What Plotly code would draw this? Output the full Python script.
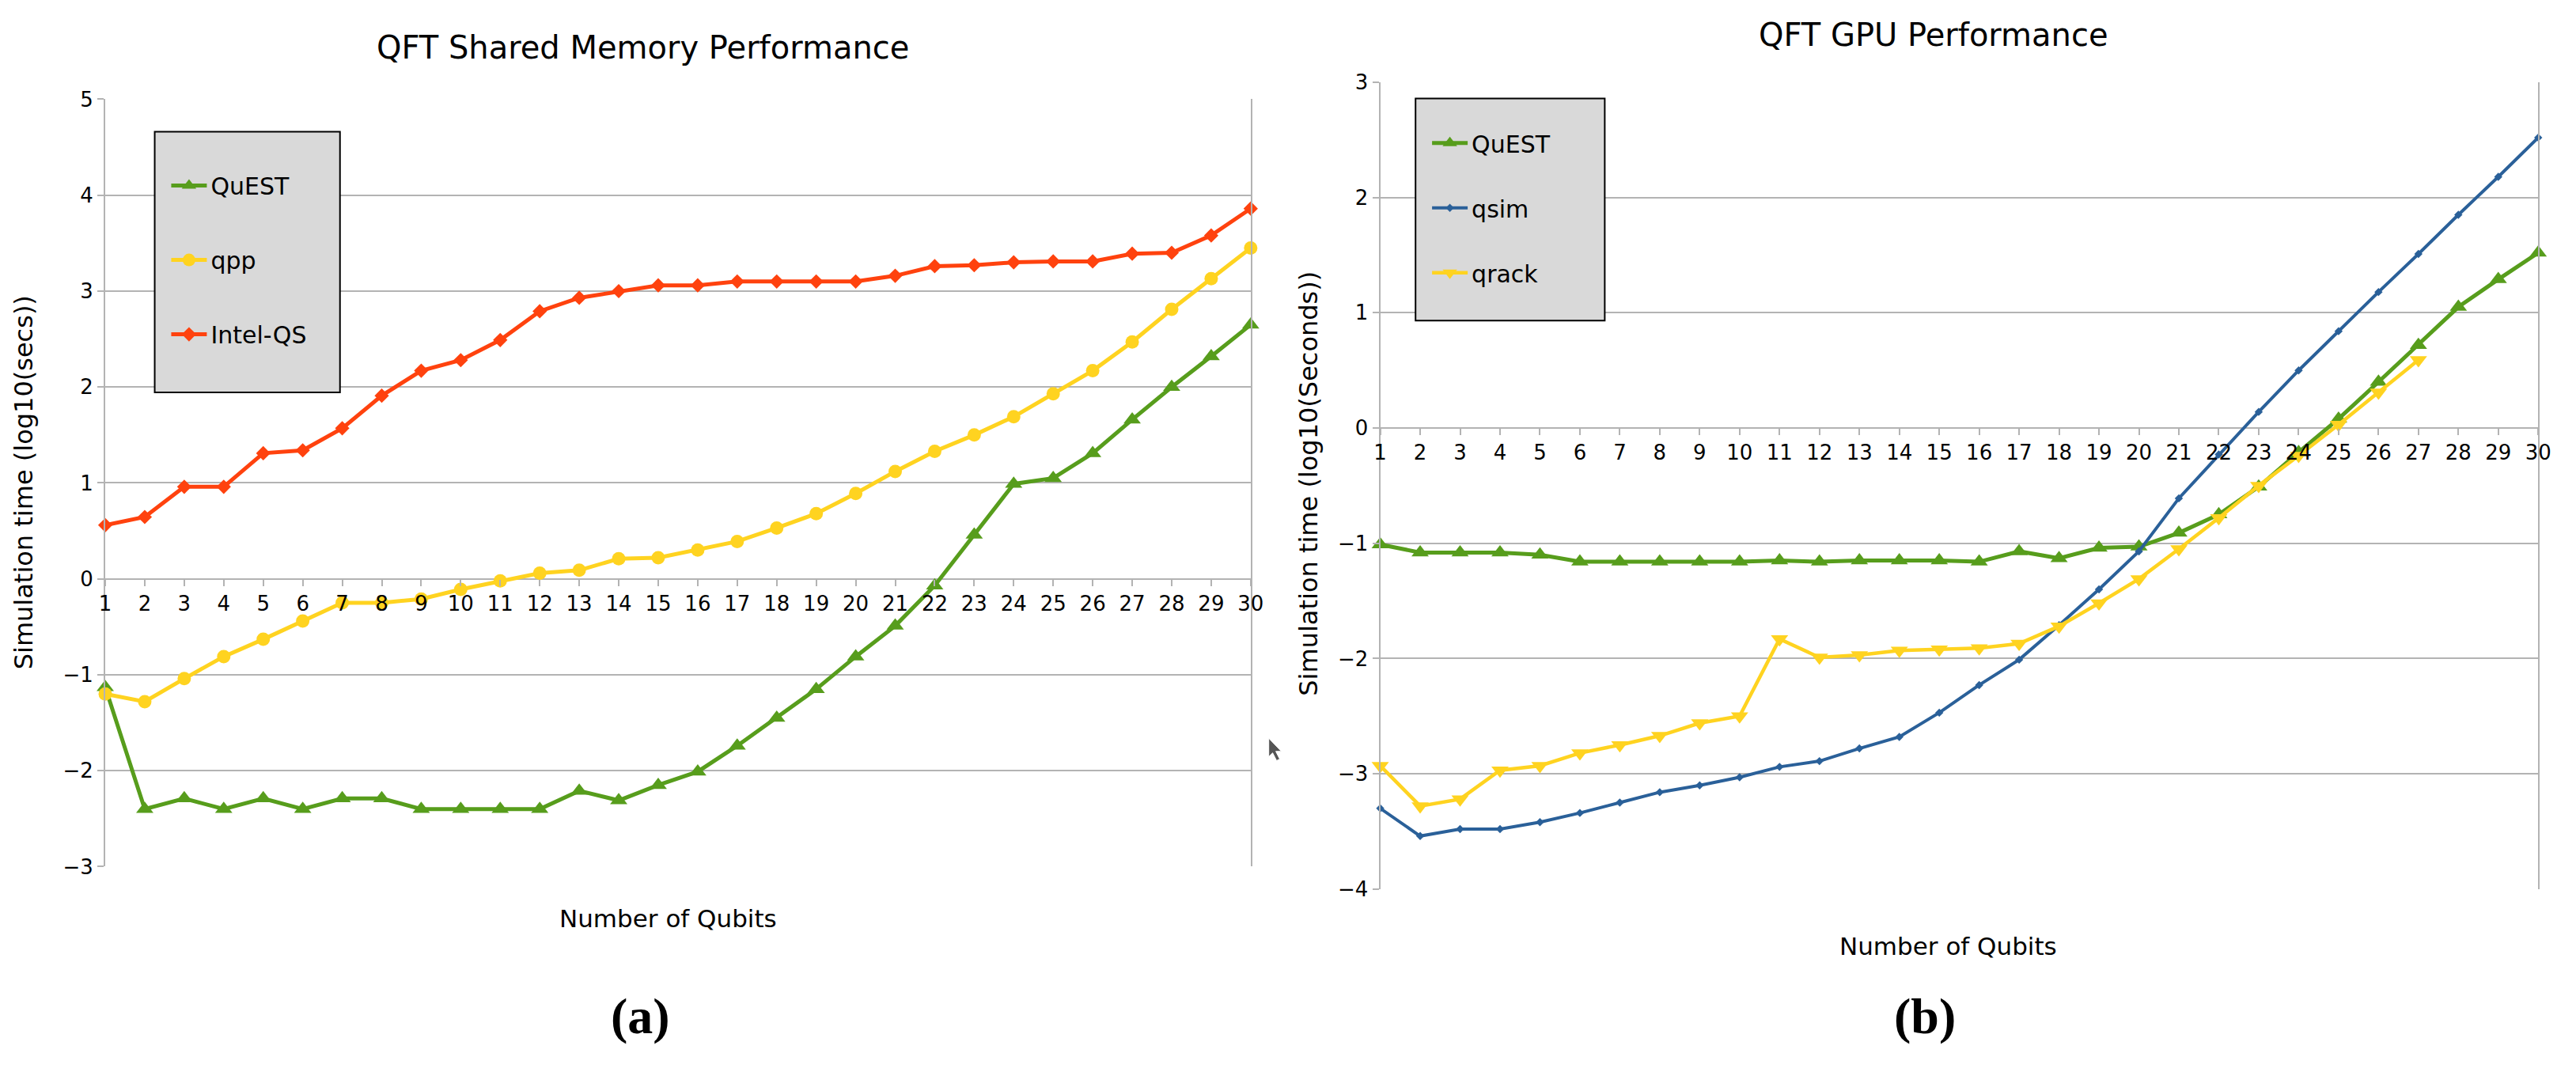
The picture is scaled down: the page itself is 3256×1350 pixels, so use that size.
import plotly.graph_objects as go

# QFT benchmark data, log10 of runtime in seconds
qubits = [1, 2, 3, 4, 5, 6, 7, 8, 9, 10, 11, 12, 13, 14, 15,
          16, 17, 18, 19, 20, 21, 22, 23, 24, 25, 26, 27, 28, 29, 30]

# (a) shared memory
quest_cpu = [-1.13, -2.40, -2.29, -2.40, -2.29, -2.40, -2.29, -2.29, -2.40, -2.40,
             -2.40, -2.40, -2.21, -2.31, -2.15, -2.01, -1.74, -1.45, -1.15, -0.81,
             -0.49, -0.07, 0.46, 0.99, 1.05, 1.31, 1.66, 2.00, 2.32, 2.65]
qpp = [-1.20, -1.28, -1.04, -0.81, -0.63, -0.44, -0.25, -0.25, -0.21, -0.11,
       -0.02, 0.06, 0.09, 0.21, 0.22, 0.30, 0.39, 0.53, 0.68, 0.89,
       1.12, 1.33, 1.50, 1.69, 1.93, 2.17, 2.47, 2.81, 3.13, 3.45]
intel_qs = [0.56, 0.645, 0.96, 0.96, 1.31, 1.34, 1.57, 1.91, 2.17, 2.28,
            2.49, 2.79, 2.93, 3.00, 3.06, 3.06, 3.10, 3.10, 3.10, 3.10,
            3.16, 3.26, 3.27, 3.30, 3.31, 3.31, 3.39, 3.40, 3.58, 3.86]

# (b) GPU
quest_gpu = [-1.01, -1.08, -1.08, -1.08, -1.10, -1.16, -1.16, -1.16, -1.16, -1.16,
             -1.15, -1.16, -1.15, -1.15, -1.15, -1.16, -1.07, -1.13, -1.04, -1.03,
             -0.91, -0.75, -0.51, -0.21, 0.08, 0.40, 0.72, 1.05, 1.29, 1.52]
qsim = [-3.30, -3.54, -3.48, -3.48, -3.42, -3.34, -3.25, -3.16, -3.10, -3.03,
        -2.94, -2.89, -2.78, -2.68, -2.47, -2.23, -2.01, -1.71, -1.40, -1.07,
        -0.61, -0.23, 0.14, 0.50, 0.84, 1.18, 1.51, 1.85, 2.18, 2.52]
qrack_qubits = [1, 2, 3, 4, 5, 6, 7, 8, 9, 10, 11, 12, 13, 14,
                15, 16, 17, 18, 19, 20, 21, 22, 23, 24, 25, 26, 27]
qrack = [-2.93, -3.28, -3.22, -2.97, -2.93, -2.82, -2.75, -2.67, -2.56, -2.50,
         -1.83, -1.99, -1.97, -1.93, -1.92, -1.91, -1.87, -1.72, -1.52, -1.31,
         -1.05, -0.78, -0.50, -0.24, 0.03, 0.31, 0.59]

W, H = 3256, 1350
GREEN, YELLOW, RED, BLUE = "#579d1c", "#ffd320", "#ff420e", "#2a6099"
GRID = "#b3b3b3"
FONT = "DejaVu Sans"


def px(x):
    return x / W


def py(y):
    return 1 - y / H


fig = go.Figure()

cpu_series = [
    ("QuEST", quest_cpu, GREEN, "triangle-up", 19, 5),
    ("qpp", qpp, YELLOW, "circle", 17, 5),
    ("Intel-QS", intel_qs, RED, "diamond", 14, 5),
]
for i, (name, vals, color, sym, size, lw) in enumerate(cpu_series):
    fig.add_trace(go.Scatter(
        x=qubits, y=vals, name=name, mode="lines+markers",
        line=dict(color=color, width=lw),
        marker=dict(symbol=sym, size=size, color=color),
        xaxis="x", yaxis="y", legend="legend", legendgroup=f"a{i}",
        cliponaxis=False))

gpu_series = [
    ("QuEST", qubits, quest_gpu, GREEN, "triangle-up", 19, 5),
    ("qsim", qubits, qsim, BLUE, "diamond", 8, 4),
    ("qrack", qrack_qubits, qrack, YELLOW, "triangle-down", 19, 4.5),
]
for i, (name, xs, vals, color, sym, size, lw) in enumerate(gpu_series):
    fig.add_trace(go.Scatter(
        x=xs, y=vals, name=name, mode="lines+markers",
        line=dict(color=color, width=lw),
        marker=dict(symbol=sym, size=size, color=color),
        xaxis="x2", yaxis="y2", legend="legend2", legendgroup=f"b{i}",
        cliponaxis=False))

# plot areas (pixels of the 3256x1350 page)
left_dom_x = [px(126), px(1585)]
left_dom_y = [py(1105), py(113)]
right_dom_x = [px(1750), px(3225)]
right_dom_y = [py(1134), py(91)]
left_range = [-3, 5]
right_range = [-4, 3]


def zero_pos(dom, rng):
    return dom[0] + (0 - rng[0]) / (rng[1] - rng[0]) * (dom[1] - dom[0])


yaxis_common = dict(dtick=1, showgrid=True, gridcolor=GRID, gridwidth=2,
                    showline=True, linecolor=GRID, linewidth=2, mirror=True,
                    ticks="outside", ticklen=8, tickcolor=GRID, tickwidth=2,
                    zeroline=False, tickfont=dict(family=FONT, size=26, color="black"))
xaxis_common = dict(tickvals=qubits, showgrid=False, zeroline=False, showline=False,
                    ticks="outside", ticklen=8, tickcolor=GRID, tickwidth=2,
                    tickfont=dict(family=FONT, size=26, color="black"))

legend_common = dict(bgcolor="rgba(0,0,0,0)", borderwidth=0,
                     font=dict(family=FONT, size=30, color="black"),
                     xanchor="left", yanchor="top", itemwidth=45)

fig.update_layout(
    width=W, height=H,
    margin=dict(l=0, r=0, t=0, b=0),
    paper_bgcolor="white", plot_bgcolor="white",
    showlegend=True,
    xaxis=dict(domain=left_dom_x, range=[1, 30], anchor="free",
               position=zero_pos(left_dom_y, left_range), **xaxis_common),
    yaxis=dict(domain=left_dom_y, range=left_range, anchor="x", **yaxis_common),
    xaxis2=dict(domain=right_dom_x, range=[1, 30], anchor="free",
                position=zero_pos(right_dom_y, right_range), **xaxis_common),
    yaxis2=dict(domain=right_dom_y, range=right_range, anchor="x2", **yaxis_common),
    legend=dict(x=px(205), y=py(198), tracegroupgap=52, **legend_common),
    legend2=dict(x=px(1811), y=py(143), tracegroupgap=40, **legend_common),
)

# legend boxes
for x0, y0, x1, y1 in [(189, 155, 425, 492), (1795, 112, 2036, 399)]:
    fig.add_shape(type="rect", xref="paper", yref="paper",
                  x0=px(x0), x1=px(x1), y0=py(y1), y1=py(y0),
                  fillcolor="#d9d9d9", line=dict(color="black", width=2),
                  layer="above")

# stray mouse pointer from the screenshot
pts = [(1608, 939), (1608, 963), (1613, 958), (1618, 968), (1622, 966), (1617, 956), (1624, 956)]
path = "M " + " L ".join(f"{px(a):.5f},{py(b):.5f}" for a, b in pts) + " Z"
fig.add_shape(type="path", xref="paper", yref="paper", path=path,
              fillcolor="#555555", line=dict(color="white", width=1), layer="above")

texts = [
    ("QFT Shared Memory Performance", 811, 46, 40, 0, FONT, "black"),
    ("QFT GPU Performance", 2455, 30, 40, 0, FONT, "black"),
    ("Number of Qubits", 843, 1172, 31, 0, FONT, "black"),
    ("Number of Qubits", 2473, 1208, 31, 0, FONT, "black"),
    ("Simulation time (log10(secs))", 23, 608, 32, -90, FONT, "black"),
    ("Simulation time (log10(Seconds))", 1659, 610, 32, -90, FONT, "black"),
    ("<b>(a)</b>", 808, 1298, 64, 0, "Liberation Serif", "black"),
    ("<b>(b)</b>", 2444, 1298, 64, 0, "Liberation Serif", "black"),
]
for text, x, y, size, angle, family, color in texts:
    fig.add_annotation(text=text, x=px(x), y=py(y), xref="paper", yref="paper",
                       xanchor="center", yanchor="middle", showarrow=False,
                       textangle=angle, font=dict(family=family, size=size, color=color))

fig.write_html("out.html", config={"displayModeBar": False},
               post_script="document.body.style.margin = '0';")
